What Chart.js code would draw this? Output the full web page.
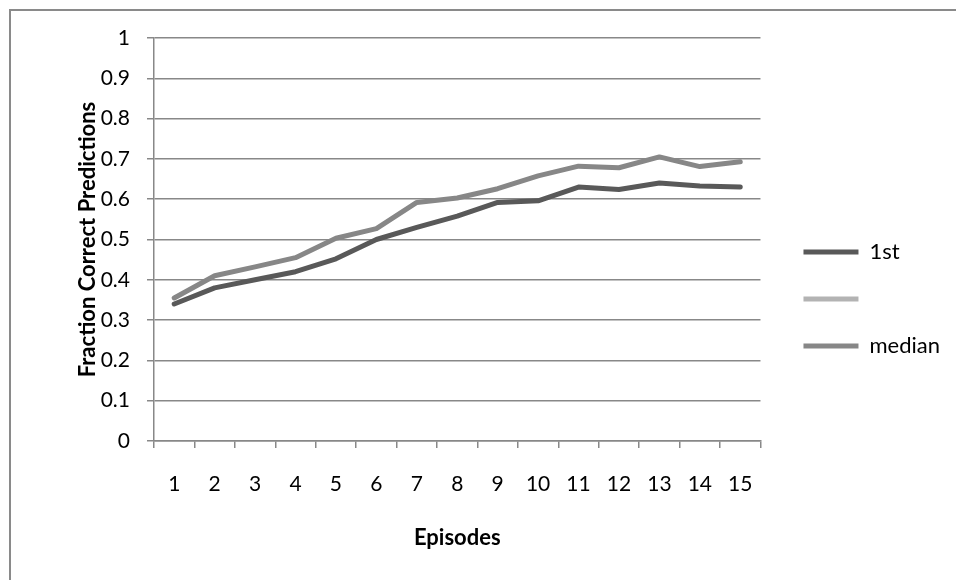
<!DOCTYPE html>
<html>
<head>
<meta charset="utf-8">
<script src="https://cdn.jsdelivr.net/npm/chart.js@4"></script>
<style>
  html, body { margin: 0; padding: 0; background: #fff; overflow: hidden; }
  #frame {
    position: absolute; left: 9px; top: 9px; width: 1000px; height: 600px;
    border-left: 2px solid #8a8a8a; border-top: 2px solid #8a8a8a;
  }
  #wrap { position: absolute; left: 0; top: 0; width: 956px; height: 580px; }
</style>
</head>
<body>
<div id="frame"></div>
<div id="wrap"><canvas id="myChart"></canvas></div>
<script>
const episodes = ['1', '2', '3', '4', '5', '6', '7', '8', '9', '10', '11', '12', '13', '14', '15']
const firstVals = [0.34, 0.38, 0.40, 0.42, 0.452, 0.50, 0.53, 0.558, 0.592, 0.596, 0.63, 0.624, 0.64, 0.633, 0.63]
const blankVals = []
const medianVals = [0.355, 0.41, 0.432, 0.455, 0.503, 0.527, 0.592, 0.603, 0.626, 0.658, 0.682, 0.678, 0.705, 0.681, 0.693]
const yTicks = [0, 0.1, 0.2, 0.3, 0.4, 0.5, 0.6, 0.7, 0.8, 0.9, 1]

const axisGray = '#888888'
const fontName = 'Lato, "Liberation Sans", sans-serif'
const tickSize = 21
const titleSize = 22

const data = {
  labels: episodes,
  datasets: [
    { label: '1st', data: firstVals, borderColor: '#595959', backgroundColor: '#595959' },
    { label: '', data: blankVals, borderColor: '#b3b3b3', backgroundColor: '#b3b3b3' },
    { label: 'median', data: medianVals, borderColor: '#878787', backgroundColor: '#878787' }
  ]
}
data.datasets.forEach(ds => {
  ds.borderWidth = 5
  ds.pointRadius = 0
  ds.tension = 0
  ds.fill = false
  ds.borderCapStyle = 'round'
  ds.borderJoinStyle = 'round'
})

// push the legend a bit away from the plot, like excel does
const legendGap = {
  id: 'legendGap',
  afterLayout(chart) {
    const lg = chart.legend
    const shift = chart.chartArea.right + 43 - (lg.left + lg.options.labels.padding)
    lg.left += shift
    lg.right += shift
  }
}

const config = {
  type: 'line',
  data: data,
  plugins: [legendGap],
  options: {
    responsive: false,
    animation: false,
    devicePixelRatio: 1,
    layout: { padding: { left: 20, top: 38, right: 24, bottom: 20 } },
    plugins: {
      legend: {
        position: 'right',
        labels: {
          boxWidth: 55,
          boxHeight: 5,
          padding: 25,
          color: '#000',
          font: { family: fontName, size: titleSize },
          generateLabels: chart => Chart.defaults.plugins.legend.labels.generateLabels(chart).map(l => ({ ...l, lineWidth: 0 }))
        }
      },
      tooltip: { enabled: false }
    },
    scales: {
      x: {
        offset: true,
        grid: { offset: true, drawOnChartArea: false, drawTicks: true, tickLength: 7, color: axisGray, lineWidth: 1.5 },
        border: { color: axisGray, width: 1.5 },
        ticks: { color: '#000', padding: 24, maxRotation: 0, font: { family: fontName, size: tickSize } },
        title: { display: true, text: 'Episodes', color: '#000', padding: { top: 4, bottom: 9 }, font: { family: fontName, size: titleSize, weight: 'bold' } },
        afterFit: s => { s.height = 580 - 441 - 20 }
      },
      y: {
        min: 0,
        max: 1,
        afterBuildTicks: s => { s.ticks = yTicks.map(v => ({ value: v })) },
        grid: { color: axisGray, lineWidth: 1.5, tickLength: 7 },
        border: { color: axisGray, width: 1.5 },
        ticks: { color: '#000', padding: 17, callback: v => String(v), font: { family: fontName, size: tickSize } },
        title: { display: true, text: 'Fraction Correct Predictions', color: '#000', padding: { top: 55, bottom: 4 }, font: { family: fontName, size: titleSize, weight: 'bold' } },
        afterFit: s => { s.width = 154 - 20 }
      }
    }
  }
}

const canvas = document.getElementById('myChart')
canvas.width = 956
canvas.height = 580
const myChart = new Chart(canvas, config)
</script>
</body>
</html>
